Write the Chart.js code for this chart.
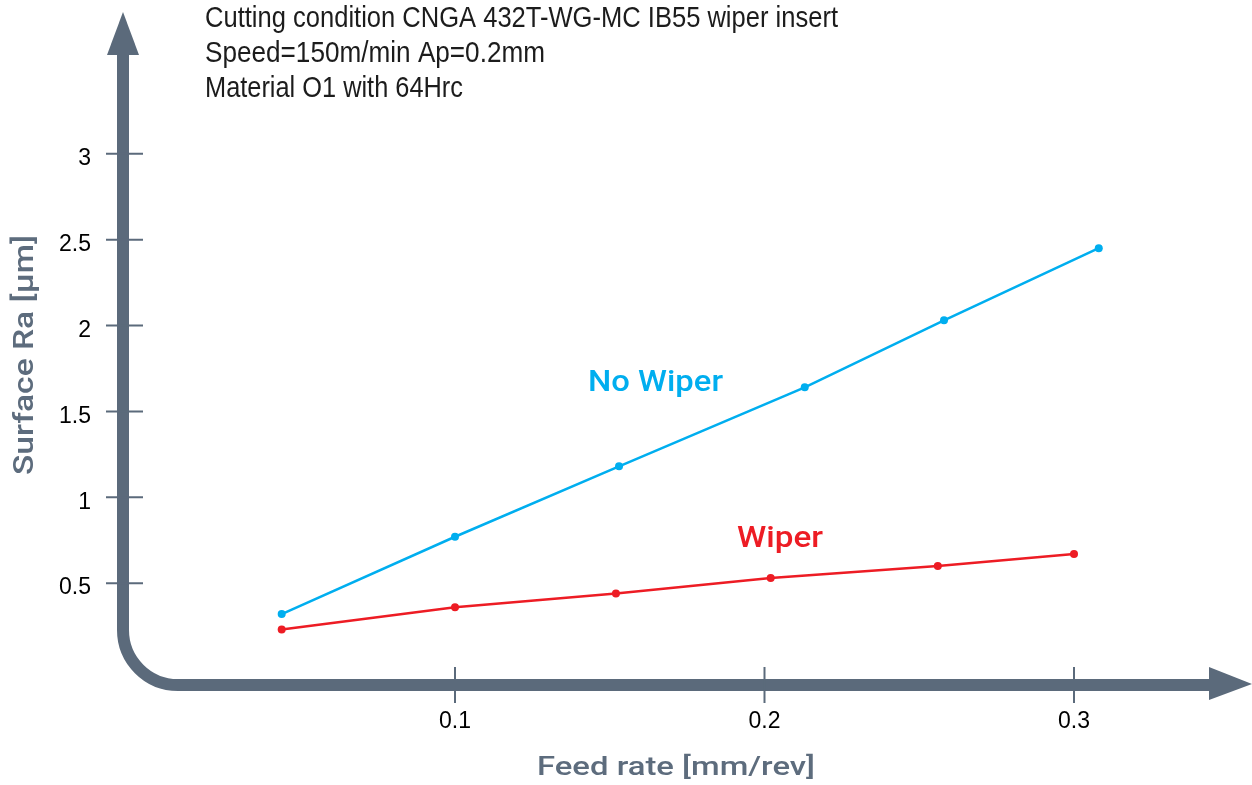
<!DOCTYPE html>
<html>
<head>
<meta charset="utf-8">
<script src="https://cdn.jsdelivr.net/npm/chart.js@4.4.0/dist/chart.umd.min.js"></script>
<style>
  html, body { margin: 0; padding: 0; background: #fff; }
  #wrap { width: 1252px; height: 785px; }
</style>
</head>
<body>
<div id="wrap"><canvas id="myChart" width="1252" height="785"></canvas></div>
<script>
// chart text + values
const titleLines = [
  "Cutting condition CNGA 432T-WG-MC IB55 wiper insert",
  "Speed=150m/min Ap=0.2mm",
  "Material O1 with 64Hrc"
];
const xTitle = "Feed rate [mm/rev]";
const yTitle = "Surface Ra [µm]";
const seriesNames = ["No Wiper", "Wiper"];
const xTicks = [0.1, 0.2, 0.3];
const yTicks = [0.5, 1, 1.5, 2, 2.5, 3];

const noWiperFeed = [0.044, 0.1, 0.153, 0.213, 0.258, 0.308];
const noWiperRa = [0.32, 0.77, 1.18, 1.64, 2.03, 2.45];
const wiperFeed = [0.044, 0.1, 0.152, 0.202, 0.256, 0.3];
const wiperRa = [0.23, 0.36, 0.44, 0.53, 0.6, 0.67];

const axisColor = "#5b6a7b";
const blue = "#00aeef";
const red = "#ed1c24";

// draw text stretched/squeezed to a given width (original fonts are not installed)
function fitText(ctx, text, x, y, width, align) {
  const natural = ctx.measureText(text).width;
  ctx.save();
  ctx.translate(x, y);
  ctx.scale(width / natural, 1);
  ctx.textAlign = align || "left";
  ctx.fillText(text, 0, 0);
  ctx.restore();
}

const axesPlugin = {
  id: "drawnAxes",
  beforeDatasetsDraw(chart) {
    const { ctx, chartArea, scales } = chart;
    const ax = chartArea.left - 22.5; // vertical axis centre line
    const ay = chartArea.bottom + 16; // horizontal axis centre line
    const r = 55;
    const w = chart.width;

    ctx.save();
    // thick axis with rounded corner
    ctx.strokeStyle = axisColor;
    ctx.lineWidth = 12;
    ctx.beginPath();
    ctx.moveTo(ax, 50);
    ctx.lineTo(ax, ay - r);
    ctx.arcTo(ax, ay, ax + r, ay, r);
    ctx.lineTo(w - 40, ay);
    ctx.stroke();

    // arrow heads
    ctx.fillStyle = axisColor;
    ctx.beginPath();
    ctx.moveTo(ax, 12);
    ctx.lineTo(ax - 16, 55);
    ctx.lineTo(ax + 16, 55);
    ctx.closePath();
    ctx.fill();
    ctx.beginPath();
    ctx.moveTo(w, ay - 1);
    ctx.lineTo(w - 43, ay - 18);
    ctx.lineTo(w - 43, ay + 15);
    ctx.closePath();
    ctx.fill();

    // tick marks and labels
    ctx.lineWidth = 2;
    ctx.fillStyle = "#000";
    ctx.font = "23px 'Liberation Sans', Arial, sans-serif";
    ctx.textBaseline = "middle";
    ctx.textAlign = "right";
    yTicks.forEach((v) => {
      const py = scales.y.getPixelForValue(v);
      ctx.beginPath();
      ctx.moveTo(ax - 17, py);
      ctx.lineTo(ax + 20, py);
      ctx.stroke();
      ctx.fillText(String(v), ax - 32, py + 5);
    });
    ctx.textAlign = "center";
    xTicks.forEach((v) => {
      const px = scales.x.getPixelForValue(v);
      ctx.beginPath();
      ctx.moveTo(px, ay - 18);
      ctx.lineTo(px, ay + 18);
      ctx.stroke();
      ctx.fillText(String(v), px, ay + 37);
    });

    // axis titles
    ctx.textBaseline = "alphabetic";
    ctx.fillStyle = "#5d6c7d";
    ctx.font = "500 26px Roboto, 'Liberation Sans', sans-serif";
    fitText(ctx, xTitle, 676, ay + 90, 278, "center");
    ctx.save();
    ctx.translate(33, 355);
    ctx.rotate(-Math.PI / 2);
    ctx.font = "500 28px Roboto, 'Liberation Sans', sans-serif";
    fitText(ctx, yTitle, 0, 0, 240, "center");
    ctx.restore();

    // condition notes at the top
    ctx.fillStyle = "#1c1c1c";
    ctx.font = "30px 'Liberation Sans', Arial, sans-serif";
    const noteWidths = [633, 340, 258];
    titleLines.forEach((t, i) => {
      fitText(ctx, t, 205, 27 + i * 34.8, noteWidths[i], "left");
    });

    // series labels
    ctx.font = "500 29px Roboto, 'Liberation Sans', sans-serif";
    ctx.fillStyle = blue;
    fitText(ctx, seriesNames[0], 588, 391, 135, "left");
    ctx.fillStyle = red;
    fitText(ctx, seriesNames[1], 737, 547, 86, "left");
    ctx.restore();
  }
};

const ctx = document.getElementById("myChart").getContext("2d");
new Chart(ctx, {
  type: "line",
  data: {
    datasets: [
      {
        label: seriesNames[0],
        data: noWiperFeed.map((x, i) => ({ x: x, y: noWiperRa[i] })),
        borderColor: blue,
        backgroundColor: blue,
        pointBackgroundColor: blue,
        borderWidth: 2.5,
        pointRadius: 4,
        pointBorderWidth: 0,
        tension: 0
      },
      {
        label: seriesNames[1],
        data: wiperFeed.map((x, i) => ({ x: x, y: wiperRa[i] })),
        borderColor: red,
        backgroundColor: red,
        pointBackgroundColor: red,
        borderWidth: 2.5,
        pointRadius: 4,
        pointBorderWidth: 0,
        tension: 0
      }
    ]
  },
  options: {
    responsive: false,
    animation: false,
    layout: { padding: { left: 145.5, right: 23.25, top: 67.9, bottom: 116 } },
    plugins: {
      legend: { display: false },
      tooltip: { enabled: false },
      title: { display: false }
    },
    scales: {
      x: { type: "linear", min: 0, max: 0.35, display: false },
      y: { type: "linear", min: 0, max: 3.5, display: false }
    }
  },
  plugins: [axesPlugin]
});
</script>
</body>
</html>
